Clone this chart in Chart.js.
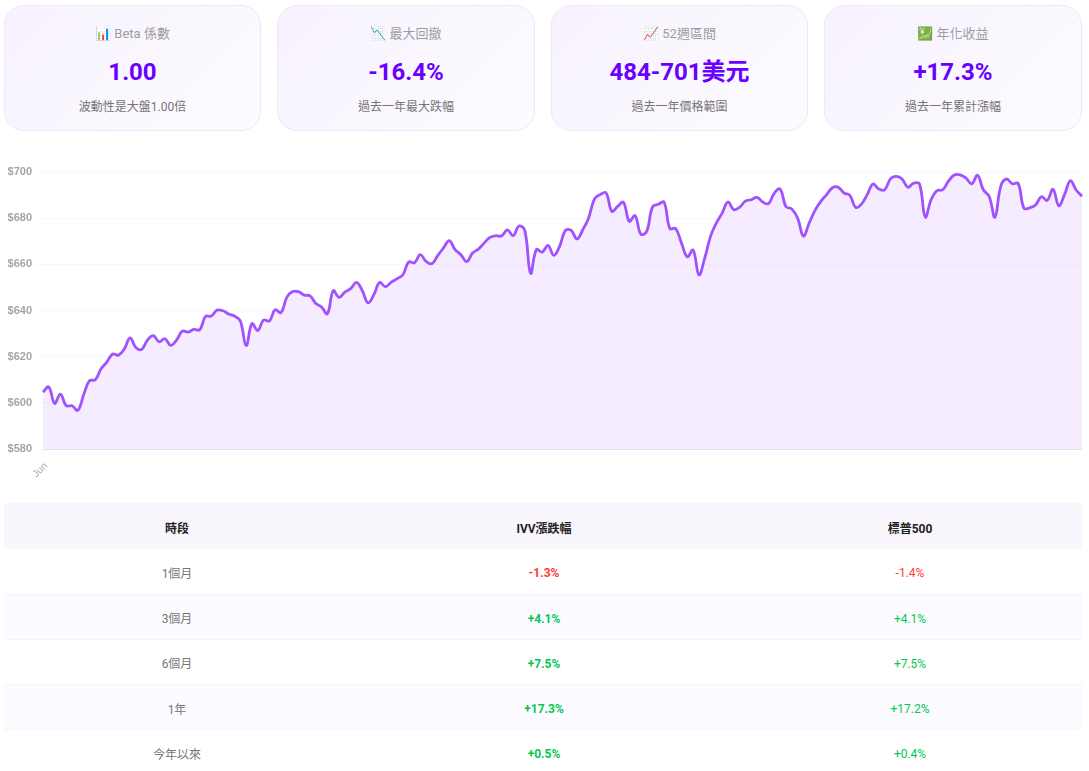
<!DOCTYPE html>
<html lang="zh-Hant">
<head>
<meta charset="utf-8">
<title>IVV</title>
<script src="https://cdn.jsdelivr.net/npm/chart.js@4"></script>
<style>
  * { box-sizing: border-box; }
  html, body { margin: 0; padding: 0; background: #fff; overflow: hidden; }
  body { width: 1089px; height: 771px; position: relative; font-family: Roboto, "Noto Sans CJK TC", sans-serif; }
  .card { position: absolute; top: 5px; height: 126px; text-align: center; border: 1px solid #efe5fd; border-radius: 20px;
    background: linear-gradient(135deg, #f7f2fe 0%, #fdfbff 100%); }
  .card .head { position: absolute; left: 0; right: 0; top: 19px; font-size: 13px; line-height: 18px; color: #9d9d9d; }
  .card .big { position: absolute; left: 0; right: 0; top: 50px; font-size: 24px; line-height: 32px; font-weight: 700; color: #6a00ff; }
  .card .sub { position: absolute; left: 0; right: 0; top: 92px; font-size: 12px; line-height: 18px; color: #757575; }
  #chartBox { position: absolute; left: 0; top: 160px; width: 1089px; height: 323px; }
  table { position: absolute; left: 4px; top: 503px; width: 1078px; border-collapse: collapse; table-layout: fixed; font-size: 12px; }
  th { height: 46px; padding-top: 3px; background: #f9f7fd; color: #222; font-weight: 700; }
  td { height: 45.2px; padding-top: 3px; text-align: center; color: #777; border-bottom: 1px solid #f6f3fb; }
  tbody tr:nth-child(even) td { background: #fcfbff; }
  td.up, td.down { padding-top: 5px; }
  td.up { color: #00c853; }
  td.down { color: #ff3b30; }
  td.b { font-weight: 700; }
</style>
</head>
<body>
<div id="cards"></div>
<div id="chartBox"><canvas id="chart"></canvas></div>
<table>
  <colgroup><col style="width:346px"><col style="width:388px"><col style="width:344px"></colgroup>
  <thead><tr id="tableHead"></tr></thead>
  <tbody id="tableBody"></tbody>
</table>
<script>
var prices = [604.7,606.9,599.8,603.8,598.8,598.8,596.8,603.5,609.6,610,614.8,617.7,621.2,620.7,623.3,628.2,624,623.2,627.2,629.1,
  626.5,627.8,624.9,627.2,631.1,630.7,631.8,631.7,637.5,637.6,640.2,639.9,638.5,637.6,635.5,624.8,634.3,631.3,635.9,635.5,
  640.4,639.1,645.7,648.2,648.2,646.7,646.4,643.1,641.5,638.6,648.6,645.7,648,649.5,652.2,648.7,643.3,646.9,652.2,650.3,
  652.3,653.8,655.5,661,660.7,664.2,661.3,660.3,663.8,667.1,670.3,666.4,664.2,661.2,664.9,666.6,669.2,671.7,672.4,672.3,
  674.9,672.4,676.6,674.7,656.1,666.4,665.3,668.2,663.9,667.8,674.7,674.7,671,675,680.1,688.3,690.2,691,683,685.1,
  686.9,678.6,681.1,673.1,674.3,684.8,686,686.9,675.5,675.5,669.2,663.3,666.2,655.5,662.7,672.1,677.9,682.2,687,683.7,
  684.7,687.4,688,689,687,686.3,690.9,692.6,685,684,680.1,672.3,677.9,683.4,687.3,690.2,693.2,693.4,690.9,689.9,
  684.7,686.1,690.2,694.8,692.6,692.3,697,698.1,697,693.4,695.2,694.8,680.5,688,691.9,692.3,696,698.7,698.8,697.4,
  694.9,698.6,692.3,689.5,680.4,693.8,697,694.9,695.1,684.3,684.5,685.7,689.3,687.7,692.5,685.4,690.3,696.2,692.2,689.5];

var firstLabel = "Jun";

var cardTitles = ["📊 Beta 係數", "📉 最大回撤", "📈 52週區間", "💹 年化收益"];
var cardValues = ["1.00", "-16.4%", "484-701美元", "+17.3%"];
var cardNotes = ["波動性是大盤1.00倍", "過去一年最大跌幅", "過去一年價格範圍", "過去一年累計漲幅"];
var cardLefts = [4, 277, 551, 824];
var cardWidths = [257, 258, 257, 258];

var tableColumns = ["時段", "IVV漲跌幅", "標普500"];
var periods = ["1個月", "3個月", "6個月", "1年", "今年以來"];
var ivvChanges = ["-1.3%", "+4.1%", "+7.5%", "+17.3%", "+0.5%"];
var spChanges = ["-1.4%", "+4.1%", "+7.5%", "+17.2%", "+0.4%"];

var cardsEl = document.getElementById("cards");
cardTitles.forEach(function(title, i) {
  var card = document.createElement("div");
  card.className = "card";
  card.style.left = cardLefts[i] + "px";
  card.style.width = cardWidths[i] + "px";
  card.innerHTML = '<div class="head">' + title + '</div><div class="big">' + cardValues[i] + '</div><div class="sub">' + cardNotes[i] + '</div>';
  cardsEl.appendChild(card);
});

document.getElementById("tableHead").innerHTML = tableColumns.map(function(c) { return "<th>" + c + "</th>"; }).join("");
function changeClass(v) { return v.charAt(0) === "-" ? "down" : "up"; }
document.getElementById("tableBody").innerHTML = periods.map(function(p, i) {
  return "<tr><td>" + p + '</td><td class="b ' + changeClass(ivvChanges[i]) + '">' + ivvChanges[i] + '</td><td class="' + changeClass(spChanges[i]) + '">' + spChanges[i] + "</td></tr>";
}).join("");

var labels = prices.map(function(v, i) { return i === 0 ? firstLabel : ""; });

new Chart(document.getElementById("chart").getContext("2d"), {
  type: "line",
  data: {
    labels: labels,
    datasets: [{
      data: prices,
      borderColor: "#a052ff",
      backgroundColor: "rgba(155, 81, 255, 0.1)",
      borderWidth: 2.8,
      pointRadius: 0,
      tension: 0.4,
      fill: true
    }]
  },
  options: {
    responsive: true,
    maintainAspectRatio: false,
    animation: false,
    layout: { padding: { left: 4, right: 7, top: 12 } },
    plugins: { legend: { display: false }, tooltip: { enabled: false } },
    scales: {
      x: {
        offset: false,
        grid: { display: false },
        border: { color: "#e6e0ee" },
        afterFit: function(scale) { scale.paddingRight = 0; },
        ticks: { autoSkip: false, minRotation: 45, maxRotation: 45, labelOffset: 3, color: "#aaa", font: { size: 10, family: "Liberation Sans" } }
      },
      y: {
        min: 580,
        max: 700,
        grid: { color: "rgba(155, 81, 255, 0.05)" },
        border: { display: false },
        afterFit: function(scale) { scale.width = 39; },
        ticks: {
          stepSize: 20,
          color: "#a5a5a5",
          font: { size: 11, weight: "bold", family: "Liberation Sans" },
          callback: function(v) { return "$" + v; }
        }
      }
    }
  }
});
</script>
</body>
</html>
